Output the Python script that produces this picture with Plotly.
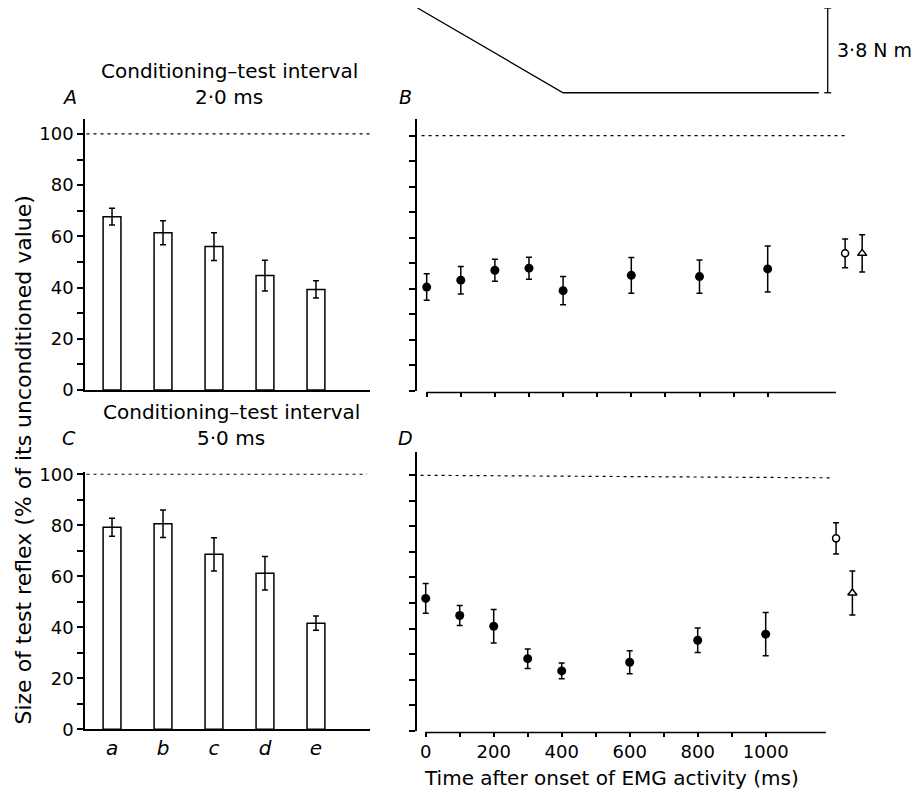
import plotly.graph_objects as go

W, H = 924, 793
FONT = "DejaVu Sans"
OFF = 8  # page body margin offset in the browser

# ---------------- data ----------------
categories = ["a", "b", "c", "d", "e"]
A_vals = [67.7, 61.4, 56.0, 44.7, 39.3]
A_err = [3.3, 4.7, 5.4, 6.0, 3.4]
C_vals = [79.2, 80.6, 68.6, 61.2, 41.6]
C_err = [3.5, 5.4, 6.5, 6.6, 2.8]

time_ms = [0, 100, 200, 300, 400, 600, 800, 1000]
B_vals = [40.7, 43.4, 47.3, 48.1, 39.3, 45.3, 44.8, 47.8]
B_err = [5.2, 5.4, 4.3, 4.3, 5.5, 7.0, 6.5, 9.0]
D_vals = [51.8, 45.1, 40.9, 28.2, 23.4, 26.8, 35.4, 37.8]
D_err = [5.8, 3.9, 6.6, 3.8, 3.1, 4.5, 4.8, 8.5]

# control values (open circle, open triangle) plotted right of the time axis
B_circle_x, B_circle_y, B_circle_err = [1227], [53.9], [5.6]
B_tri_x, B_tri_y, B_tri_err = [1277], [53.9], [7.3]
D_circle_x, D_circle_y, D_circle_err = [1207], [75.3], [6.1]
D_tri_x, D_tri_y, D_tri_err = [1255], [53.9], [8.6]

torque_t = [-27, 400, 1150]
torque_v = [3.8, 0, 0]
scale_bar_t = [1176, 1176]
scale_bar_v = [0, 3.8]

ref_level = 100
yticks = list(range(0, 101, 10))
ylabels = [str(v) if v % 20 == 0 else "" for v in yticks]
xticks_time = list(range(0, 1001, 100))
xlabels_time = [str(v) if v % 200 == 0 else "" for v in xticks_time]


def px_x(p):
    return min(1.0, max(0.0, (p - OFF) / W))


def px_y(p):
    return min(1.0, max(0.0, 1 - (p - OFF) / H))


fig = go.Figure()

err_style = dict(type="data", color="black", thickness=1.5, width=3)

# Panel A bars
fig.add_trace(go.Bar(x=list(range(5)), y=A_vals, width=0.35,
                     marker=dict(color="white", line=dict(color="black", width=1.5)),
                     error_y=dict(array=A_err, **err_style), xaxis="x", yaxis="y"))
# Panel C bars
fig.add_trace(go.Bar(x=list(range(5)), y=C_vals, width=0.35,
                     marker=dict(color="white", line=dict(color="black", width=1.5)),
                     error_y=dict(array=C_err, **err_style), xaxis="x3", yaxis="y3"))

# Panel B points
fig.add_trace(go.Scatter(x=time_ms, y=B_vals, mode="markers",
                         marker=dict(color="black", size=9),
                         error_y=dict(array=B_err, **err_style), xaxis="x2", yaxis="y2", cliponaxis=False))
fig.add_trace(go.Scatter(x=B_circle_x, y=B_circle_y, mode="markers",
                         marker=dict(color="white", size=7, symbol="circle", line=dict(color="black", width=1.5)),
                         error_y=dict(array=B_circle_err, **err_style), xaxis="x2", yaxis="y2", cliponaxis=False))
fig.add_trace(go.Scatter(x=B_tri_x, y=B_tri_y, mode="markers",
                         marker=dict(color="white", size=8, symbol="triangle-up", line=dict(color="black", width=1.5)),
                         error_y=dict(array=B_tri_err, **err_style), xaxis="x2", yaxis="y2", cliponaxis=False))

# Panel D points
fig.add_trace(go.Scatter(x=time_ms, y=D_vals, mode="markers",
                         marker=dict(color="black", size=9),
                         error_y=dict(array=D_err, **err_style), xaxis="x4", yaxis="y4", cliponaxis=False))
fig.add_trace(go.Scatter(x=D_circle_x, y=D_circle_y, mode="markers",
                         marker=dict(color="white", size=7, symbol="circle", line=dict(color="black", width=1.5)),
                         error_y=dict(array=D_circle_err, **err_style), xaxis="x4", yaxis="y4", cliponaxis=False))
fig.add_trace(go.Scatter(x=D_tri_x, y=D_tri_y, mode="markers",
                         marker=dict(color="white", size=8, symbol="triangle-up", line=dict(color="black", width=1.5)),
                         error_y=dict(array=D_tri_err, **err_style), xaxis="x4", yaxis="y4", cliponaxis=False))

# torque trace and scale bar
fig.add_trace(go.Scatter(x=torque_t, y=torque_v, mode="lines",
                         line=dict(color="black", width=1.3), xaxis="x2", yaxis="y5"))
fig.add_trace(go.Scatter(x=scale_bar_t, y=scale_bar_v, mode="lines+markers",
                         line=dict(color="black", width=1.3),
                         marker=dict(symbol="line-ew-open", size=5, line=dict(color="black", width=1.3)),
                         xaxis="x2", yaxis="y5", cliponaxis=False))

axis_common = dict(showgrid=False, zeroline=False, linecolor="black", linewidth=1.5,
                   tickcolor="black", tickwidth=1.5, fixedrange=True, automargin=False)

ytick_kw = dict(tickmode="array", tickvals=yticks, ticks="outside", ticklen=6, showline=True,
                tickfont=dict(size=18))

bar_x_dom = [px_x(85), px_x(370)]
time_x_dom = [px_x(416.7), px_x(870)]

fig.update_layout(
    template="none",
    width=W, height=H, margin=dict(l=0, r=0, t=0, b=0, pad=0),
    paper_bgcolor="white", plot_bgcolor="white", showlegend=False,
    font=dict(family=FONT, size=18, color="black"),
    xaxis=dict(domain=bar_x_dom, range=[-0.53, 5.06], anchor="y", showline=True,
               showticklabels=False, ticks="", **axis_common),
    yaxis=dict(domain=[px_y(390), px_y(118.6)], range=[0, 106], anchor="x",
               ticktext=ylabels, **ytick_kw, **axis_common),
    xaxis3=dict(domain=bar_x_dom, range=[-0.53, 5.06], anchor="y3", showline=True,
                tickmode="array", tickvals=list(range(5)),
                ticktext=[f"<i>{c}</i>" for c in categories], ticks="",
                tickfont=dict(size=20), **axis_common),
    yaxis3=dict(domain=[px_y(729.3), px_y(471.7)], range=[0, 101], anchor="x3",
                ticktext=ylabels, **ytick_kw, **axis_common),
    xaxis2=dict(domain=time_x_dom, range=[-29.3, 1300], anchor="y2", showline=False,
                tickmode="array", tickvals=xticks_time, ticks="outside", ticklen=5,
                showticklabels=False, **axis_common),
    yaxis2=dict(domain=[px_y(391), px_y(119.3)], range=[0, 106.4], anchor="x2",
                ticktext=[""] * len(yticks), **ytick_kw, **axis_common),
    xaxis4=dict(domain=time_x_dom, range=[-26.5, 1306.8], anchor="y4", showline=False,
                tickmode="array", tickvals=xticks_time, ticktext=xlabels_time,
                ticks="outside", ticklen=5, tickfont=dict(size=18), **axis_common),
    yaxis4=dict(domain=[px_y(730.7), px_y(452.3)], range=[0, 109], anchor="x4",
                ticktext=[""] * len(yticks), **ytick_kw, **axis_common),
    yaxis5=dict(domain=[px_y(95), px_y(8)], range=[-0.1, 3.8], anchor="x2",
                visible=False, fixedrange=True, automargin=False),
)

# separate time-axis baselines (start at 0 ms, not at the y axis)
fig.add_shape(type="line", xref="x2", yref="paper", x0=0, x1=1200,
              y0=px_y(392.5), y1=px_y(392.5), line=dict(color="black", width=1.5))
fig.add_shape(type="line", xref="x4", yref="paper", x0=0, x1=1177,
              y0=px_y(732.5), y1=px_y(732.5), line=dict(color="black", width=1.5))

# 100 % reference lines
dot = dict(color="black", width=1.2, dash="3px,4px")
fig.add_shape(type="line", xref="x", yref="y", x0=-0.5, x1=5.06, y0=ref_level, y1=ref_level, line=dot)
fig.add_shape(type="line", xref="x3", yref="y3", x0=-0.5, x1=5.0, y0=ref_level, y1=ref_level, line=dot)
fig.add_shape(type="line", xref="x2", yref="y2", x0=-15, x1=1227, y0=ref_level, y1=ref_level, line=dot)
fig.add_shape(type="line", xref="x4", yref="y4", x0=-15, x1=1200, y0=ref_level, y1=ref_level - 1, line=dot)


def ann(text, x, y, size=20, xanchor="center", **kw):
    fig.add_annotation(text=text, x=(x - OFF) / W, y=1 - (y - OFF) / H, xref="paper", yref="paper",
                       showarrow=False, xanchor=xanchor, yanchor="middle",
                       font=dict(family=FONT, size=size, color="black"), **kw)


ann("Conditioning\u2013test interval", 229, 71)
ann("2\u00b70 ms", 229, 97)
ann("Conditioning\u2013test interval", 231, 412)
ann("5\u00b70 ms", 231, 438)
ann("<i>A</i>", 69, 97, size=19)
ann("<i>B</i>", 405, 97, size=19)
ann("<i>C</i>", 69, 438, size=19)
ann("<i>D</i>", 405, 438, size=19)
ann("3\u00b78 N m", 835, 50, size=19, xanchor="left")
ann("Time after onset of EMG activity (ms)", 611, 778, size=20)
ann("Size of test reflex (% of its unconditioned value)", OFF, 460, size=22,
    xanchor="left", textangle=-90)

fig.write_html("out.html")
